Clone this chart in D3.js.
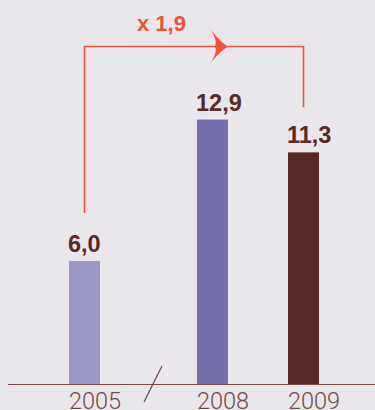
<!DOCTYPE html>
<html><head><meta charset="utf-8">
<script src="https://cdn.jsdelivr.net/npm/d3@7"></script>
<style>html,body{margin:0;padding:0;background:#e9e6ec;}svg{display:block;}</style>
</head><body>
<svg id="c" width="375" height="410"></svg>
<script>
const years = ["2005", "2008", "2009"];
const values = [6.0, 12.9, 11.3];
const valueLabels = ["6,0", "12,9", "11,3"];
const barColors = ["#9c98c5", "#7570ac", "#582a26"];
const growthLabel = "x 1,9";

const svg = d3.select("#c");
const baseY = 384;
const y = d3.scaleLinear().domain([0, 1]).range([baseY, baseY - 20.5]);
const x = d3.scaleOrdinal().domain(years).range([69, 197, 288]);
const bw = 31;

svg.append("rect").attr("width", 375).attr("height", 410).attr("fill", "#e9e6ec");

svg.selectAll("rect.bar").data(values).enter().append("rect")
  .attr("class", "bar")
  .attr("x", (d, i) => x(years[i]))
  .attr("y", d => y(d))
  .attr("width", bw)
  .attr("height", d => baseY - y(d))
  .attr("fill", (d, i) => barColors[i]);

svg.selectAll("text.val").data(values).enter().append("text")
  .attr("x", (d, i) => x(years[i]) - 1)
  .attr("y", d => y(d) - 9)
  .attr("font-family", "Liberation Sans, Arial, sans-serif")
  .attr("font-weight", "bold")
  .attr("font-size", 23.5)
  .attr("fill", "#5a2a28")
  .text((d, i) => valueLabels[i]);

// baseline
svg.append("line").attr("x1", 8).attr("x2", 375).attr("y1", baseY + 0.5).attr("y2", baseY + 0.5)
  .attr("stroke", "#7a4a48").attr("stroke-width", 1.2);

// break slash
svg.append("line").attr("x1", 162).attr("y1", 366).attr("x2", 144).attr("y2", 402)
  .attr("stroke", "#6a3a38").attr("stroke-width", 1.1);

// year labels
svg.selectAll("text.yr").data(years).enter().append("text")
  .attr("x", d => x(d))
  .attr("y", 409)
  .attr("font-family", "Roboto, sans-serif")
  .attr("font-weight", 300)
  .attr("font-size", 23.5)
  .attr("fill", "#7a4a48")
  .text(d => d);

// growth bracket
const orange = "#ee5338";
const x0 = x(years[0]) + bw / 2, x2 = x(years[2]) + bw / 2;
const topY = 46.5;
svg.append("path")
  .attr("d", `M${x0},${y(values[0]) - 48} L${x0},${topY} L${x2},${topY} L${x2},${y(values[2]) - 45}`)
  .attr("fill", "none").attr("stroke", orange).attr("stroke-width", 1.6);

// arrow head
svg.append("path")
  .attr("d", "M227.5,46.5 Q216,38 208.5,26 Q218,40 215,46.5 Q218,53 208.5,66 Q216,55 227.5,46.5 Z")
  .attr("fill", orange);

svg.append("text")
  .attr("x", 137).attr("y", 31)
  .attr("font-family", "Liberation Sans, Arial, sans-serif")
  .attr("font-weight", "bold")
  .attr("font-size", 22)
  .attr("fill", orange)
  .text(growthLabel);
</script>
</body></html>
